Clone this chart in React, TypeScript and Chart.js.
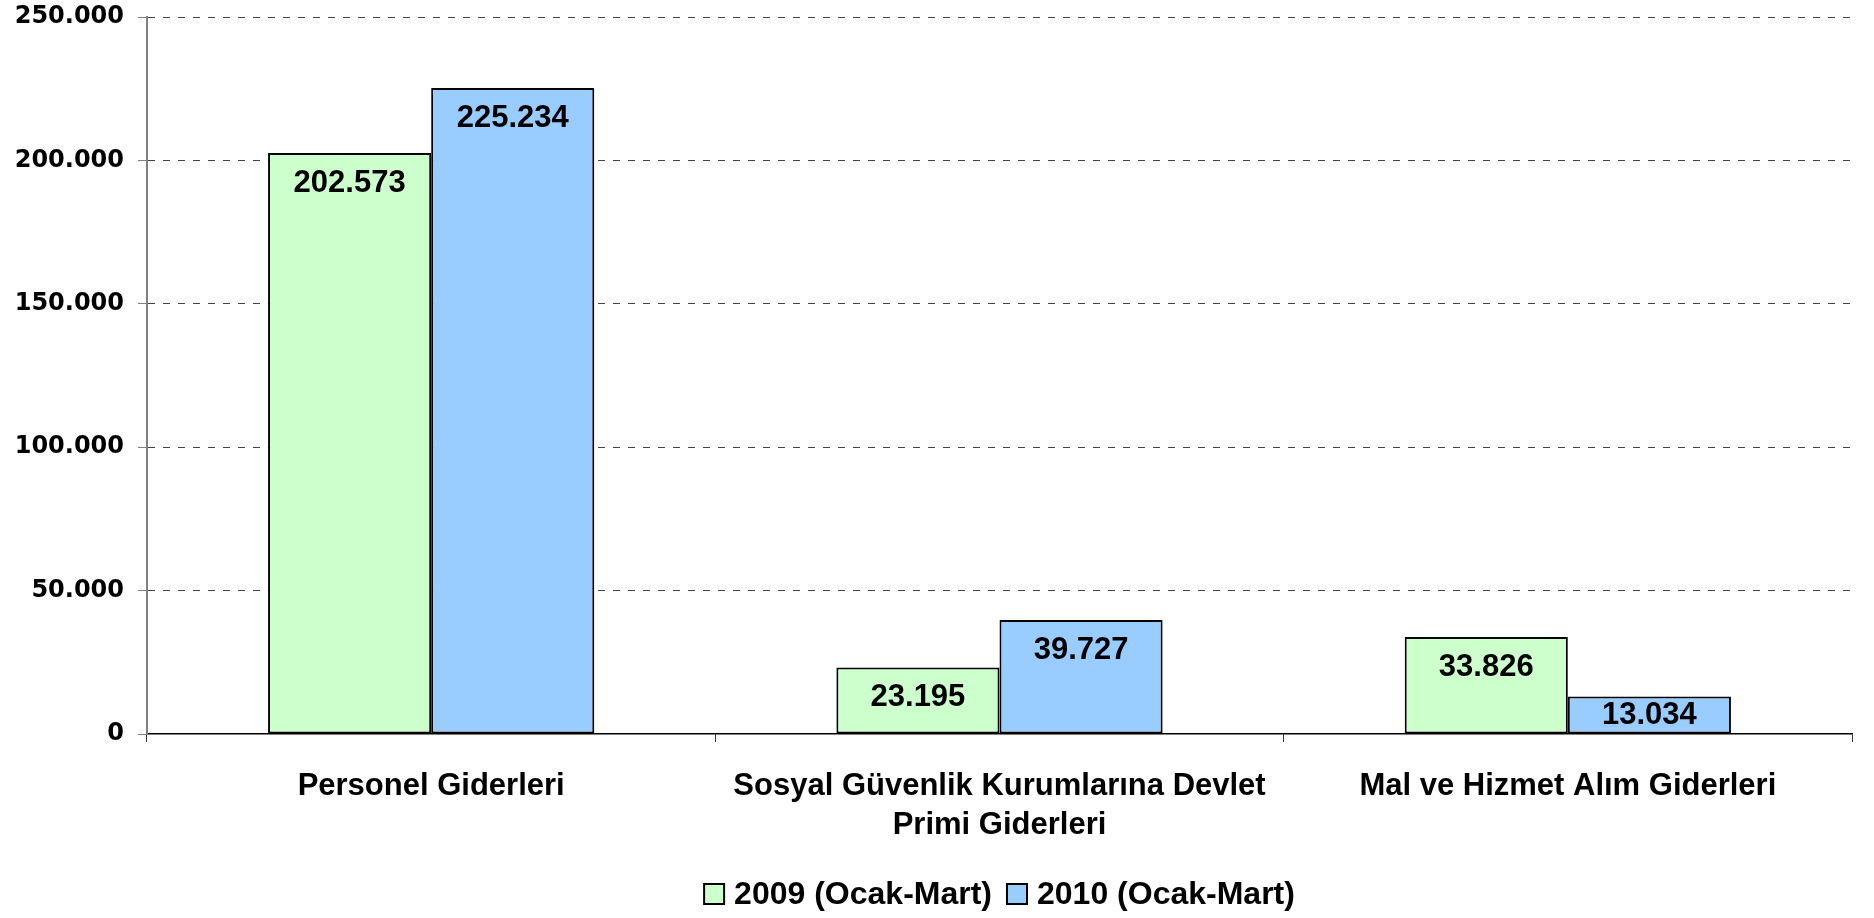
import React, { useEffect, useRef } from "react";
import { Chart, registerables } from "chart.js";

Chart.register(...registerables);

const categories: string[][] = [
  ["Personel Giderleri"],
  ["Sosyal Güvenlik Kurumlarına Devlet", "Primi Giderleri"],
  ["Mal ve Hizmet Alım Giderleri"],
];
const series2009 = [202573, 23195, 33826];
const series2010 = [225234, 39727, 13034];
const seriesNames = ["2009 (Ocak-Mart)", "2010 (Ocak-Mart)"];
const seriesColors = ["#CCFFCC", "#99CCFF"];
const yMax = 250000;
const yStep = 50000;

function fmt(v: number): string {
  return String(Math.round(v)).replace(/\B(?=(\d{3})+(?!\d))/g, ".");
}

const labelFont = "bold 31px 'Liberation Sans', Arial, sans-serif";
const legendFont = "bold 32px 'Liberation Sans', Arial, sans-serif";

const valueLabels = {
  id: "valueLabels",
  afterDatasetsDraw(chart: any) {
    const ctx = chart.ctx;
    ctx.save();
    ctx.font = labelFont;
    ctx.fillStyle = "#000";
    ctx.textAlign = "center";
    ctx.textBaseline = "middle";
    chart.data.datasets.forEach((ds: any, di: number) => {
      const meta = chart.getDatasetMeta(di);
      meta.data.forEach((el: any, i: number) => {
        const top = el.y;
        const base = el.base;
        const h = base - top;
        const y = top + Math.min(30, h / 2);
        ctx.fillText(fmt(ds.data[i]), el.x, y);
      });
    });
    ctx.restore();
  },
};

const customLegend = {
  id: "customLegend",
  afterDraw(chart: any) {
    const ctx = chart.ctx;
    const area = chart.chartArea;
    const box = 20;
    const gap = 10;
    const itemGap = 15;
    ctx.save();
    ctx.font = legendFont;
    const items = chart.data.datasets.map((ds: any) => ({
      text: ds.label,
      color: ds.backgroundColor,
      w: ctx.measureText(ds.label).width,
    }));
    const total =
      items.reduce((s: number, it: any) => s + box + gap + it.w, 0) + itemGap * (items.length - 1);
    let x = (area.left + area.right) / 2 - total / 2;
    const cy = 894;
    ctx.textBaseline = "middle";
    ctx.textAlign = "left";
    items.forEach((it: any) => {
      ctx.fillStyle = it.color;
      ctx.fillRect(x, cy - box / 2, box, box);
      ctx.lineWidth = 2;
      ctx.strokeStyle = "#000";
      ctx.strokeRect(x, cy - box / 2, box, box);
      ctx.fillStyle = "#000";
      ctx.fillText(it.text, x + box + gap, cy + 1);
      x += box + gap + it.w + itemGap;
    });
    ctx.restore();
  },
};

export default function App() {
  const ref = useRef<HTMLCanvasElement>(null);
  useEffect(() => {
    if (!ref.current) return;
    const chart = new Chart(ref.current, {
      type: "bar",
      data: {
        labels: categories,
        datasets: [
          {
            label: seriesNames[0],
            data: series2009,
            backgroundColor: seriesColors[0],
            borderColor: "#000",
            borderWidth: 2,
            borderSkipped: false,
            categoryPercentage: 0.574,
            barPercentage: 1,
          },
          {
            label: seriesNames[1],
            data: series2010,
            backgroundColor: seriesColors[1],
            borderColor: "#000",
            borderWidth: 2,
            borderSkipped: false,
            categoryPercentage: 0.574,
            barPercentage: 1,
          },
        ],
      },
      options: {
        responsive: false,
        animation: false,
        layout: { padding: { top: 17, right: 22, left: 0, bottom: 50 } },
        plugins: {
          tooltip: { enabled: false },
          legend: { display: false },
        },
        scales: {
          x: {
            afterFit: (s: any) => {
              s.height = 134;
            },
            grid: {
              drawOnChartArea: false,
              drawTicks: true,
              tickLength: 8,
              color: "#333",
            },
            border: { display: true, color: "#000", width: 1.5 },
            ticks: {
              color: "#000",
              padding: 25,
              maxRotation: 0,
              autoSkip: false,
              font: { family: "'Liberation Sans', Arial, sans-serif", size: 31, weight: "bold", lineHeight: 1.25 },
            },
          },
          y: {
            min: 0,
            max: yMax,
            afterFit: (s: any) => {
              s.width = 147;
              s.paddingTop = 0;
              s.paddingBottom = 0;
            },
            grid: {
              color: (c: any) => (c.tick && c.tick.value === 0 ? "rgba(0,0,0,0)" : "#444"),
              tickBorderDash: [],
              tickColor: "#808080",
              tickLength: 9,
              lineWidth: 1,
            } as any,
            border: { display: true, color: "#808080", width: 2, dash: [7, 8] } as any,
            ticks: {
              stepSize: yStep,
              color: "#000",
              padding: 14,
              font: { family: "'DejaVu Sans', sans-serif", size: 24, weight: "bold" },
              callback: (v: any) => fmt(Number(v)),
            },
          },
        },
      },
      plugins: [valueLabels, customLegend],
    });
    return () => chart.destroy();
  }, []);
  return (
    <div style={{ position: "fixed", left: 0, top: 0, width: 1874, height: 918, background: "#fff" }}>
      <canvas ref={ref} width={1874} height={918} style={{ display: "block" }} />
    </div>
  );
}
